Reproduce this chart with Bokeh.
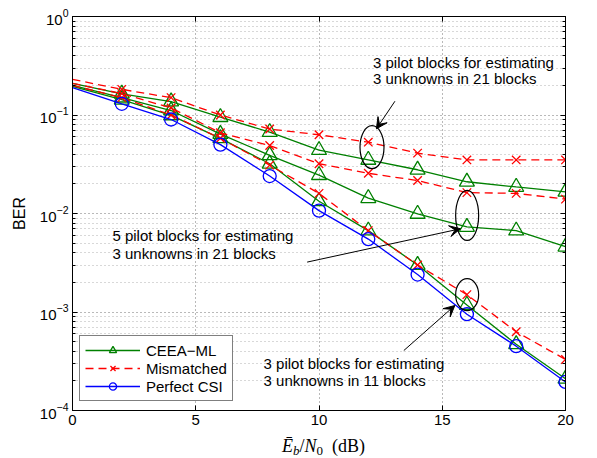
from bokeh.plotting import figure
from bokeh.layouts import column
from bokeh.models import (FixedTicker, LinearAxis, LogAxis, CustomJSTickFormatter,
                          Legend, LegendItem, Arrow, VeeHead, ColumnDataSource, Div)
from bokeh.core.properties import value
from bokeh.embed import file_html
from bokeh.resources import INLINE

# ---------------- data ----------------
snr_db = [0, 2, 4, 6, 8, 10, 12, 14, 16, 18, 20]

# CEEA-ML (green)
ceea_3p_21 = [0.21, 0.164, 0.137, 0.095, 0.067, 0.044, 0.035, 0.0278, 0.021, 0.0186, 0.0166]
ceea_5p_21 = [0.20, 0.150, 0.111, 0.064, 0.039, 0.0245, 0.0143, 0.0099, 0.0073, 0.0067, 0.0046]
ceea_3p_11 = [0.195, 0.143, 0.099, 0.058, 0.032, 0.0133, 0.0067, 0.0030, 0.00118, 0.00047, 0.00021]

# Mismatched (red dashed)
mism_3p_21 = [0.23, 0.182, 0.150, 0.100, 0.072, 0.063, 0.053, 0.041, 0.035, 0.035, 0.035]
mism_5p_21 = [0.21, 0.165, 0.118, 0.066, 0.049, 0.032, 0.0256, 0.0216, 0.0163, 0.0160, 0.0140]
mism_3p_11 = [0.20, 0.150, 0.100, 0.058, 0.031, 0.0160, 0.0067, 0.0030, 0.0015, 0.00063, 0.00033]

# Perfect CSI (blue)
perfect_csi = [0.19, 0.130, 0.090, 0.050, 0.024, 0.0107, 0.0055, 0.0024, 0.00095, 0.00045, 0.000195]

x_ticks = [0, 5, 10, 15, 20]
y_ticks = [1e-4, 1e-3, 1e-2, 1e-1, 1e0]
y_minor = [k * d for d in [1e-4, 1e-3, 1e-2, 1e-1] for k in range(2, 10)]

legend_labels = ["CEEA\u2212ML", "Mismatched", "Perfect CSI"]

# annotations
note_text = ["3 pilot blocks for estimating", "3 unknowns in 21 blocks",
             "5 pilot blocks for estimating", "3 unknowns in 21 blocks",
             "3 pilot blocks for estimating", "3 unknowns in 11 blocks"]
note_x = [12.19, 12.19, 1.62, 1.62, 7.75, 7.75]
note_y = [0.3436, 0.233, 0.00598, 0.00395, 0.000302, 0.000200]

ellipse_x = [12.15, 16.01, 16.01]
ellipse_y = [0.0471, 0.00955, 0.0015]
ellipse_w = [24, 23, 23]
ellipse_h = [43, 50, 32]
arrows = [
    (13.08, 0.138, 12.33, 0.0724),
    (9.52, 0.00321, 15.74, 0.0070),
    (13.44, 0.000406, 15.51, 0.001164),
]

GREEN = "#008000"
RED = "#ff0000"
BLUE = "#0000ff"
SANS = "Liberation Sans"

p = figure(width=597, height=431, x_range=(0, 20), y_range=(1e-4, 1),
           y_axis_type="log", output_backend="svg", toolbar_location=None,
           min_border_left=72, min_border_right=32, min_border_top=16,
           min_border_bottom=21, background_fill_color="white",
           border_fill_color="white")
p.outline_line_color = "black"
p.outline_line_width = 1

xticker = FixedTicker(ticks=x_ticks, minor_ticks=[])
yticker = FixedTicker(ticks=y_ticks, minor_ticks=y_minor)
p.xaxis.ticker = xticker
p.yaxis.ticker = yticker
p.xgrid.ticker = xticker
p.ygrid.ticker = yticker

for ax in (p.xaxis[0], p.yaxis[0]):
    ax.axis_line_color = "black"
    ax.major_tick_in = 5
    ax.major_tick_out = 0
    ax.minor_tick_in = 3
    ax.minor_tick_out = 0
    ax.major_tick_line_color = "black"
    ax.minor_tick_line_color = "black"
    ax.major_label_text_font = SANS
    ax.major_label_text_font_size = "15px"
    ax.major_label_text_color = "black"
    ax.major_label_standoff = 4

p.yaxis.axis_label = "BER"
p.yaxis.axis_label_text_font = SANS
p.yaxis.axis_label_text_font_size = "16px"
p.yaxis.axis_label_text_font_style = "normal"
p.yaxis.axis_label_text_color = "black"
p.yaxis.axis_label_standoff = 9

raxis = LogAxis(ticker=yticker, formatter=CustomJSTickFormatter(code="return ''"),
                major_tick_in=5, major_tick_out=0, minor_tick_in=3, minor_tick_out=0,
                major_label_standoff=0, axis_line_color="black")
taxis = LinearAxis(ticker=xticker, formatter=CustomJSTickFormatter(code="return ''"),
                   major_tick_in=5, major_tick_out=0, minor_tick_in=0, minor_tick_out=0,
                   major_label_standoff=0, axis_line_color="black")
p.add_layout(raxis, "right")
p.add_layout(taxis, "above")

p.xgrid.grid_line_color = "black"
p.xgrid.grid_line_alpha = 0.55
p.xgrid.grid_line_dash = "1 3"
p.ygrid.grid_line_color = "black"
p.ygrid.grid_line_alpha = 0.55
p.ygrid.grid_line_dash = "1 3"
p.ygrid.minor_grid_line_color = "#666666"
p.ygrid.minor_grid_line_alpha = 0.5
p.ygrid.minor_grid_line_dash = "1 3"

LW = 1.3

def curve(vals, color, marker, size, dash="solid"):
    ln = p.line(snr_db, vals, line_color=color, line_width=LW, line_dash=dash)
    sc = p.scatter(snr_db[1:], vals[1:], marker=marker, size=size, line_color=color,
                   line_width=LW, fill_alpha=0)
    return ln, sc

g1 = curve(ceea_3p_21, GREEN, "triangle", 15)
g2 = curve(ceea_5p_21, GREEN, "triangle", 15)
g3 = curve(ceea_3p_11, GREEN, "triangle", 15)
r1 = curve(mism_3p_21, RED, "x", 12, "8 5")
r2 = curve(mism_5p_21, RED, "x", 12, "8 5")
r3 = curve(mism_3p_11, RED, "x", 12, "8 5")
b1 = curve(perfect_csi, BLUE, "circle", 13)

# ellipses
p.ellipse(x=ellipse_x, y=ellipse_y, width=ellipse_w, height=ellipse_h,
          width_units="screen", height_units="screen", fill_alpha=0,
          line_color="black", line_width=1.2)

for (x0, y0, x1, y1) in arrows:
    p.add_layout(Arrow(end=VeeHead(size=11, fill_color="black", line_color="black"),
                       x_start=x0, y_start=y0, x_end=x1, y_end=y1,
                       line_color="black", line_width=1))

notes = ColumnDataSource(dict(x=note_x, y=note_y, text=note_text))
p.text(x="x", y="y", text="text", source=notes, text_font=value(SANS),
       text_font_size=value("15px"), text_baseline="middle", text_align="left",
       text_color="black")

legend = Legend(items=[
    LegendItem(label=legend_labels[0], renderers=[g1[0], g1[1]]),
    LegendItem(label=legend_labels[1], renderers=[r1[0], r1[1]]),
    LegendItem(label=legend_labels[2], renderers=[b1[0], b1[1]]),
], location=(7, 9), border_line_color="black", border_line_width=1,
   background_fill_color="white", background_fill_alpha=1,
   label_text_font=SANS, label_text_font_size="15px", label_text_color="black",
   glyph_width=55, glyph_height=18, label_height=18, spacing=0, padding=5,
   label_standoff=6, margin=0)
p.add_layout(legend)

# ---- x-axis label: E-bar_b / N_0 (dB) as real HTML text ----
xlabel_html = (
    "<div style=\"margin-left:277px; margin-top:0px; font-family:'Liberation Serif', serif; "
    "font-size:18px; line-height:21px; white-space:nowrap; color:black;\">"
    "<i>\u0112</i><sub style=\"font-size:13px; vertical-align:-3px;\"><i>b</i></sub>"
    "/<i>N</i><sub style=\"font-size:13px; vertical-align:-3px;\">0</sub>"
    "&nbsp;&nbsp;(dB)</div>"
)
xlabel = Div(text=xlabel_html, width=597, height=27)

layout = column(p, xlabel, spacing=0)
open("out.html", "w").write(file_html(layout, INLINE))
